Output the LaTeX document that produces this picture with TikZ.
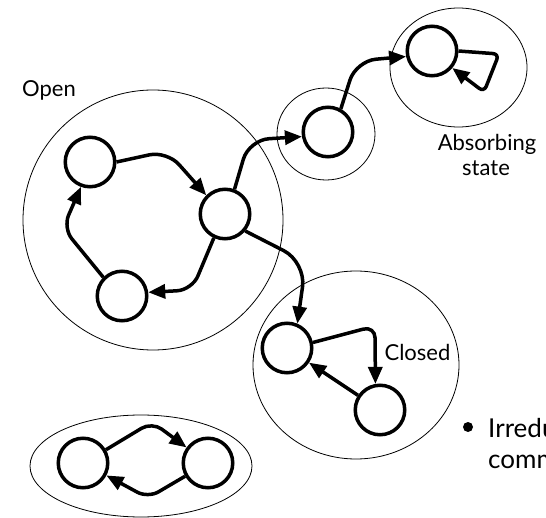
\documentclass[tikz,border=0pt]{standalone}
\usepackage{fontspec}
\setmainfont{Lato}
\usetikzlibrary{arrows.meta}
\begin{document}
\begin{tikzpicture}[x=1pt,y=-1pt,
  state/.style={circle,draw,line width=3.5pt,minimum size=49.5pt,inner sep=0pt},
  region/.style={draw,line width=0.8pt},
  arr/.style={line width=3.5pt,-{Triangle[length=17pt,width=14pt]}},
  lbl/.style={font=\fontsize{22}{26}\selectfont,inner sep=0pt}]
\useasboundingbox (0,0) rectangle (546,518);
% regions
\draw[region] (153,220) circle [radius=130];
\draw[region] (326,134) ellipse [x radius=49,y radius=46];
\draw[region] (458.5,67.5) ellipse [x radius=68.5,y radius=59.5];
\draw[region] (356,365) ellipse [x radius=103,y radius=94];
\draw[region] (141,466) ellipse [x radius=111,y radius=51];
% states
\node[state] (A) at (90,162) {};
\node[state] (B) at (225,214) {};
\node[state] (C) at (122,296) {};
\node[state] (D) at (328,132) {};
\node[state] (E) at (432,51) {};
\node[state] (F) at (287,348) {};
\node[state] (G) at (380,410) {};
\node[state] (H) at (83,463) {};
\node[state] (I) at (208,463) {};
% loop coordinates
\coordinate (e1) at (499,54);
\coordinate (e2) at (484,92);
% transitions
\draw[arr,rounded corners=18pt] (A.east) -- (167,151) -- (B.north west);
\draw[arr,rounded corners=14pt] (C.north west) -- (63,228) -- (A.250);
\draw[arr,rounded corners=15pt] (B.245) -- (192,290) -- (C.8);
\draw[arr,rounded corners=20pt] (B.69) -- (249,140) -- (D.190);
\draw[arr,rounded corners=20pt] (D.61) -- (356,61) -- (E.192);
\draw[arr,rounded corners=6pt] (E.east) -- (e1) -- (e2) -- (E.-40);
\draw[arr,rounded corners=25pt] (B.-40) -- (306,262) -- (F.67);
\draw[arr,rounded corners=12pt] (F.12) -- (375,326) -- (G.100);
\draw[arr] (G) -- (F);
\draw[arr,rounded corners=12pt] (H.30) -- (152,422) -- (I.144);
\draw[arr,rounded corners=12pt] (I.210) -- (148,498) -- (H.-28);
% labels
\node[lbl,anchor=base] (open) at (49,96.5) {Open};
\node[lbl,anchor=base] (abs1) at (487,151) {Absorbing};
\node[lbl,anchor=base] (abs2) at (486,176) {state};
\node[lbl,anchor=base] (closed) at (417.5,361) {Closed};
\begin{scope}
\clip (0,0) rectangle (546,518);
\fill (468,427) circle [radius=5];
\node[font=\fontsize{26}{30}\selectfont,inner sep=0pt,anchor=base west] (irr) at (488,437) {Irredu};
\node[font=\fontsize{26}{30}\selectfont,inner sep=0pt,anchor=base west] (comm) at (488,468) {comm};
\end{scope}
\end{tikzpicture}
\end{document}
